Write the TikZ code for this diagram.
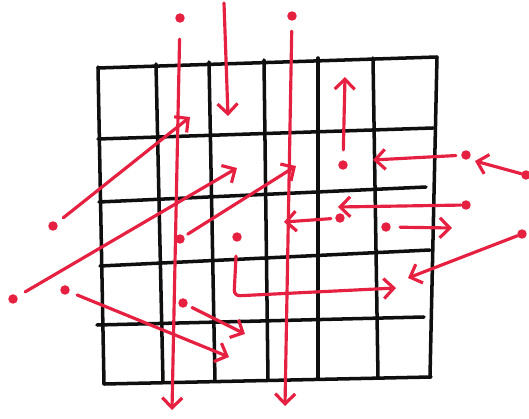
\documentclass[tikz,border=0pt]{standalone}
\usepackage{xcolor}
\usepackage{tikz}
\usetikzlibrary{arrows.meta, positioning}

\definecolor{pen}{RGB}{230,32,64}
\definecolor{ink}{RGB}{15,15,15}

\begin{document}
\begin{tikzpicture}[
    x=0.02cm, y=-0.02cm,
    grid line/.style={draw=ink, line width=2pt, line cap=round},
    dot node/.style={circle, fill=pen, inner sep=0pt, minimum size=0.19cm},
    red arrow/.style={draw=pen, line width=1.8pt, line cap=round,
        -{Straight Barb[length=2mm,width=4mm]}}
]
\useasboundingbox (0,0) rectangle (529,419);

% grid
\foreach \xa/\ya/\xb/\yb in {98/67/104/384, 156/64/163/382, 209/62/215/381,
    264/60/268/380, 318/58/318/378, 373/58/378/377, 437/57/430/377}
    \draw[grid line] (\xa,\ya) -- (\xb,\yb);
\foreach \xa/\ya/\xb/\yb in {98/68/437/57, 98/139/433/128, 99/202/426/187,
    100/266/430/250, 97/325/424/317, 104/384/431/377}
    \draw[grid line] (\xa,\ya) -- (\xb,\yb);

% dots
\node[dot node] (d1) at (180,18) {};
\node[dot node] (d3) at (292,16) {};
\node[dot node] (d4) at (343,165) {};
\node[dot node] (d5) at (466,155) {};
\node[dot node] (d6) at (526,175) {};
\node[dot node] (d7) at (466,205) {};
\node[dot node] (d8) at (340,218) {};
\node[dot node] (d9) at (386,227) {};
\node[dot node] (d10) at (522,234) {};
\node[dot node] (d11) at (237,237) {};
\node[dot node] (d12) at (53,226) {};
\node[dot node] (d13) at (13,299) {};
\node[dot node] (d14) at (180,239) {};
\node[dot node] (d15) at (65,290) {};
\node[dot node] (d16) at (183,303) {};

% arrow ends
\coordinate (s2) at (224,3);
\coordinate (t1) at (172,410);
\coordinate (t2) at (228,116);
\coordinate (t3) at (285,406);
\coordinate (t4) at (345,77);
\coordinate (t5) at (373,160);
\coordinate (t6) at (475,161);
\coordinate (t7) at (338,207);
\coordinate (t8) at (284,222);
\coordinate (t9) at (452,228);
\coordinate (t10) at (408,278);
\coordinate (c11) at (234,296);
\coordinate (t11) at (396,288);
\coordinate (t12) at (190,117);
\coordinate (t13) at (237,168);
\coordinate (t14) at (296,166);
\coordinate (t15) at (229,357);
\coordinate (t16) at (245,334);

% arrows
\draw[red arrow, shorten <=0.32cm] (d1) -- (t1);
\draw[red arrow] (s2) -- (t2);
\draw[red arrow, shorten <=0.2cm] (d3) -- (t3);
\draw[red arrow, shorten <=0.2cm] (d4) -- (t4);
\draw[red arrow, shorten <=0.1cm] (d5) -- (t5);
\draw[red arrow] (d6) -- (t6);
\draw[red arrow] (d7) -- (t7);
\draw[red arrow, shorten <=0.08cm] (d8) -- (t8);
\draw[red arrow, shorten <=0.18cm] (d9) -- (t9);
\draw[red arrow] (d10) -- (t10);
\draw[red arrow, shorten <=0.28cm, rounded corners=0.12cm] (d11) -- (c11) -- (t11);
\draw[red arrow, shorten <=0.16cm] (d12) -- (t12);
\draw[red arrow, shorten <=0.18cm] (d13) -- (t13);
\draw[red arrow, shorten <=0.08cm] (d14) -- (t14);
\draw[red arrow, shorten <=0.16cm] (d15) -- (t15);
\draw[red arrow, shorten <=0.1cm] (d16) -- (t16);

\end{tikzpicture}
\end{document}
